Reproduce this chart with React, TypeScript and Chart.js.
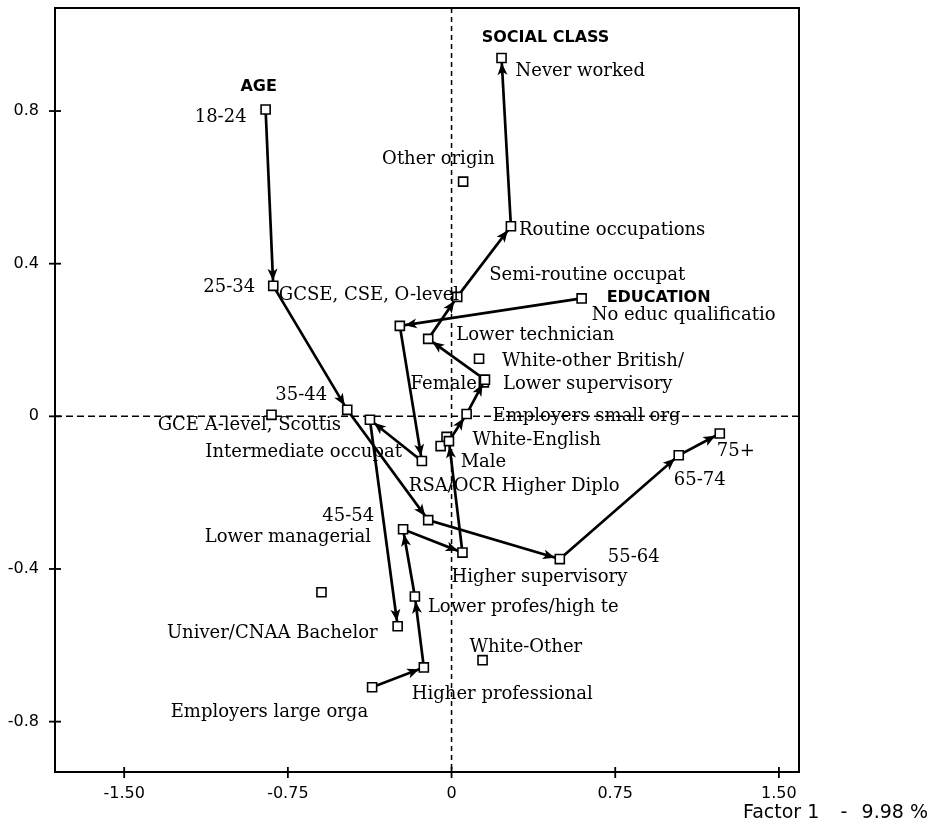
import { useEffect, useRef } from 'react';
import { Chart, registerables } from 'chart.js';

Chart.register(...registerables);

// ---------- DATA ----------
const ageNames = ['18-24', '25-34', '35-44', '45-54', '55-64', '65-74', '75+'];
const ageX = [-0.852, -0.817, -0.478, -0.107, 0.496, 1.041, 1.229];
const ageY = [0.804, 0.342, 0.017, -0.272, -0.374, -0.102, -0.045];

const classNames = [
  'Employers large orga', 'Higher professional', 'Lower profes/high te', 'Lower managerial',
  'Higher supervisory', 'Intermediate occupat', 'Employers small org', 'Lower supervisory',
  'Lower technician', 'Semi-routine occupat', 'Routine occupations', 'Never worked',
];
const classX = [-0.364, -0.127, -0.168, -0.222, 0.05, -0.012, 0.069, 0.153, -0.107, 0.026, 0.272, 0.229];
const classY = [-0.71, -0.658, -0.472, -0.296, -0.357, -0.065, 0.006, 0.096, 0.203, 0.313, 0.498, 0.939];

const eduNames = ['No educ qualificatio', 'GCSE, CSE, O-level', 'RSA/OCR Higher Diplo', 'GCE A-level, Scottis', 'Univer/CNAA Bachelor'];
const eduX = [0.596, -0.237, -0.136, -0.374, -0.247];
const eduY = [0.309, 0.237, -0.117, -0.009, -0.55];

const otherNames = ['Other origin', 'White-other British/', 'White-English', 'Male', 'Female', 'White-Other', 'point A', 'point B'];
const otherX = [0.053, 0.126, -0.023, -0.05, 0.148, 0.142, -0.825, -0.596];
const otherY = [0.615, 0.151, -0.054, -0.078, 0.089, -0.639, 0.004, -0.461];

const xTicks = [-1.5, -0.75, 0, 0.75, 1.5];
const xTickLabels = ['-1.50', '-0.75', '0', '0.75', '1.50'];
const yTicks = [-0.8, -0.4, 0, 0.4, 0.8];
const yTickLabels = ['-0.8', '-0.4', '0', '0.4', '0.8'];
const groupTitles = ['AGE', 'SOCIAL CLASS', 'EDUCATION'];
const axisTitleParts = ['Factor 1', '-', '9.98 %'];

// ---------- LAYOUT (label offsets in px relative to their point) ----------
type Align = 'left' | 'right' | 'center';
const labelLayout: Record<string, [number, number, Align]> = {
  '18-24': [-19, 8, 'right'],
  '25-34': [-18, 2, 'right'],
  '35-44': [-20, -15, 'right'],
  '45-54': [-54, -4, 'right'],
  '55-64': [48, -2, 'left'],
  '65-74': [-5, 25, 'left'],
  '75+': [-3, 18, 'left'],
  'Employers large orga': [-4, 25, 'right'],
  'Higher professional': [-12, 27, 'left'],
  'Lower profes/high te': [13, 11, 'left'],
  'Lower managerial': [-32, 8, 'right'],
  'Higher supervisory': [-11, 25, 'left'],
  'Intermediate occupat': [-47, 11, 'right'],
  'Employers small org': [26, 2, 'left'],
  'Lower supervisory': [18, 5, 'left'],
  'Lower technician': [28, -4, 'left'],
  'Semi-routine occupat': [32, -22, 'left'],
  'Routine occupations': [8, 4, 'left'],
  'Never worked': [14, 13, 'left'],
  'No educ qualificatio': [10, 17, 'left'],
  'GCSE, CSE, O-level': [-121, -31, 'left'],
  'RSA/OCR Higher Diplo': [-13, 25, 'left'],
  'GCE A-level, Scottis': [-29, 6, 'right'],
  'Univer/CNAA Bachelor': [-20, 7, 'right'],
  'Other origin': [-81, -22, 'left'],
  'White-other British/': [23, 3, 'left'],
  'White-English': [26, 3, 'left'],
  'Male': [20, 16, 'left'],
  'Female': [-7, 2, 'right'],
  'White-Other': [-13, -13, 'left'],
};
const titleLayout: Record<string, [string, number, number, Align]> = {
  'AGE': ['18-24', -7, -23, 'center'],
  'SOCIAL CLASS': ['Never worked', 44, -20, 'center'],
  'EDUCATION': ['No educ qualificatio', 25, -1, 'left'],
};

const SERIF = '18px "DejaVu Serif"';
const SANS_BOLD = 'bold 16px "DejaVu Sans"';

function makeSet(names: string[], xs: number[], ys: number[], chain: boolean) {
  return {
    label: names[0],
    data: xs.map((v, i) => ({ x: v, y: ys[i] })),
    showLine: chain,
    borderColor: '#000',
    borderWidth: 2.7,
    tension: 0,
    pointStyle: 'rect',
    pointRadius: 6.4,
    pointBackgroundColor: '#fff',
    pointBorderColor: '#000',
    pointBorderWidth: 1.6,
    clip: false,
  };
}

const allNames = [ageNames, classNames, eduNames, otherNames];
const chainFlags = [true, true, true, false];

const plotPlugin = {
  id: 'caPlot',
  beforeDatasetsDraw(chart: any) {
    const { ctx, chartArea: a, scales } = chart;
    const x0 = scales.x.getPixelForValue(0);
    const y0 = scales.y.getPixelForValue(0);
    ctx.save();
    ctx.strokeStyle = '#000';
    ctx.lineWidth = 1.5;
    ctx.setLineDash([7, 4]);
    ctx.beginPath();
    ctx.moveTo(a.left, y0);
    ctx.lineTo(a.right, y0);
    ctx.stroke();
    ctx.setLineDash([5, 4]);
    ctx.beginPath();
    ctx.moveTo(x0, a.top);
    ctx.lineTo(x0, a.bottom);
    ctx.stroke();
    ctx.restore();
  },
  afterDatasetsDraw(chart: any) {
    const { ctx, chartArea: a, scales } = chart;
    ctx.save();
    // arrowheads
    ctx.fillStyle = '#000';
    chainFlags.forEach((isChain, di) => {
      if (!isChain) return;
      const pts = chart.getDatasetMeta(di).data;
      for (let i = 1; i < pts.length; i++) {
        const p0 = pts[i - 1], p1 = pts[i];
        const dx = p1.x - p0.x, dy = p1.y - p0.y;
        const len = Math.hypot(dx, dy) || 1;
        const ux = dx / len, uy = dy / len;
        const nx = -uy, ny = ux;
        const tx = p1.x - ux * 5, ty = p1.y - uy * 5;
        const bx = tx - ux * 12, by = ty - uy * 12;
        ctx.beginPath();
        ctx.moveTo(tx, ty);
        ctx.lineTo(bx + nx * 5, by + ny * 5);
        ctx.lineTo(bx + ux * 3, by + uy * 3);
        ctx.lineTo(bx - nx * 5, by - ny * 5);
        ctx.closePath();
        ctx.fill();
      }
    });
    // frame
    ctx.strokeStyle = '#000';
    ctx.lineWidth = 2;
    ctx.strokeRect(a.left, a.top, a.right - a.left, a.bottom - a.top);
    // tick marks
    ctx.lineWidth = 1.8;
    xTicks.forEach((v) => {
      const px = scales.x.getPixelForValue(v);
      ctx.beginPath();
      ctx.moveTo(px, a.bottom - 5);
      ctx.lineTo(px, a.bottom + 6);
      ctx.stroke();
    });
    yTicks.forEach((v) => {
      const py = scales.y.getPixelForValue(v);
      ctx.beginPath();
      ctx.moveTo(a.left - 6, py);
      ctx.lineTo(a.left + 6, py);
      ctx.stroke();
    });
    // point labels
    const pos: Record<string, { x: number; y: number }> = {};
    allNames.forEach((names, di) => {
      const pts = chart.getDatasetMeta(di).data;
      names.forEach((n, i) => { pos[n] = { x: pts[i].x, y: pts[i].y }; });
    });
    ctx.textBaseline = 'middle';
    ctx.font = SERIF;
    Object.keys(labelLayout).forEach((n) => {
      const p = pos[n];
      if (!p) return;
      const [dx, dy, al] = labelLayout[n];
      ctx.textAlign = al;
      ctx.fillText(n, p.x + dx, p.y + dy);
    });
    ctx.font = SANS_BOLD;
    groupTitles.forEach((t) => {
      const [ref, dx, dy, al] = titleLayout[t];
      const p = pos[ref];
      ctx.textAlign = al;
      ctx.fillText(t, p.x + dx, p.y + dy);
    });
    // axis title
    ctx.font = '19px "DejaVu Sans"';
    ctx.textAlign = 'left';
    ctx.fillText(axisTitleParts[0], 743, 813);
    ctx.textAlign = 'center';
    ctx.fillText(axisTitleParts[1], 844, 813);
    ctx.textAlign = 'right';
    ctx.fillText(axisTitleParts[2], 928, 813);
    ctx.restore();
  },
};

export default function App() {
  const ref = useRef<HTMLCanvasElement | null>(null);
  useEffect(() => {
    if (!ref.current) return;
    const chart = new Chart(ref.current, {
      type: 'scatter',
      data: {
        datasets: allNames.map((names, i) =>
          makeSet(names, [ageX, classX, eduX, otherX][i], [ageY, classY, eduY, otherY][i], chainFlags[i])
        ) as any,
      },
      options: {
        animation: false,
        responsive: false,
        events: [],
        layout: { padding: { top: 5, right: 137, left: 0, bottom: 0 } },
        plugins: { legend: { display: false }, tooltip: { enabled: false } },
        scales: {
          x: {
            type: 'linear',
            min: -1.817,
            max: 1.592,
            grid: { display: false, drawTicks: false },
            border: { display: false },
            afterBuildTicks: (s: any) => { s.ticks = xTicks.map((v) => ({ value: v })); },
            afterFit: (s: any) => { s.height = 55; s.paddingLeft = 0; s.paddingRight = 0; },
            ticks: {
              autoSkip: false,
              maxRotation: 0,
              padding: 12,
              color: '#000',
              font: { family: 'DejaVu Sans', size: 16 },
              callback: (v: any) => xTickLabels[xTicks.indexOf(Number(v))] ?? '',
            },
          },
          y: {
            type: 'linear',
            min: -0.932,
            max: 1.07,
            grid: { display: false, drawTicks: false },
            border: { display: false },
            afterBuildTicks: (s: any) => { s.ticks = yTicks.map((v) => ({ value: v })); },
            afterFit: (s: any) => { s.width = 55; s.paddingTop = 0; s.paddingBottom = 0; },
            ticks: {
              autoSkip: false,
              padding: 16,
              color: '#000',
              font: { family: 'DejaVu Sans', size: 16 },
              callback: (v: any) => yTickLabels[yTicks.indexOf(Number(v))] ?? '',
            },
          },
        },
      } as any,
      plugins: [plotPlugin],
    });
    return () => chart.destroy();
  }, []);
  return (
    <div style={{ position: 'fixed', left: 0, top: 0, width: 936, height: 827, background: '#fff' }}>
      <canvas ref={ref} width={936} height={827} style={{ display: 'block' }} />
    </div>
  );
}
